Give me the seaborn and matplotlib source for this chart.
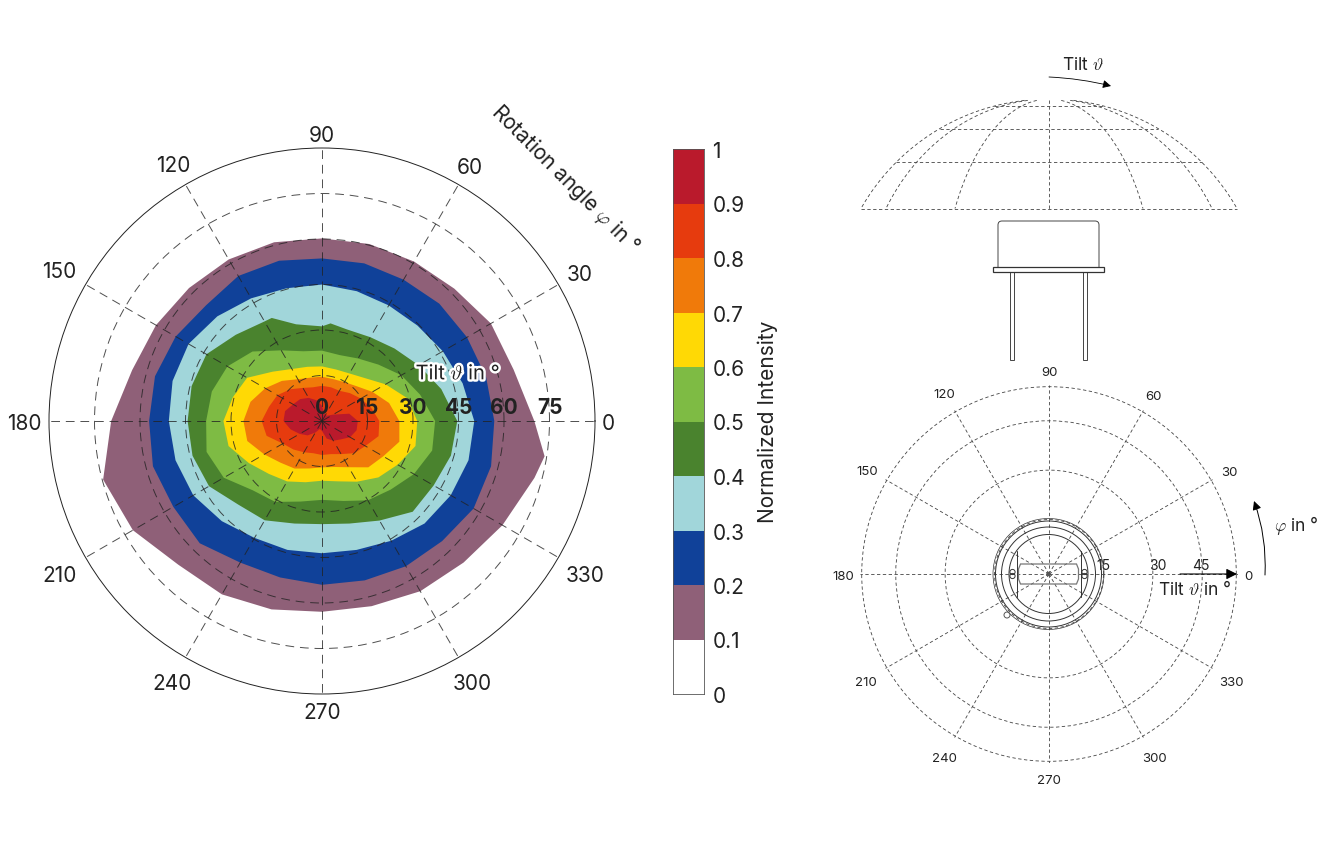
import numpy as np
import matplotlib
matplotlib.use('Agg')
import matplotlib.pyplot as plt
import matplotlib.patheffects as pe
from matplotlib.colors import ListedColormap
from matplotlib.patches import FancyBboxPatch, Rectangle, Circle, Polygon
import seaborn as sns

# Rotation angle in degrees, shared by most of the contours
PHI = [0, 15, 30, 45, 60, 75, 90, 105, 120, 135, 150, 165,
       180, 195, 210, 225, 240, 255, 270, 285, 300, 315, 330, 345]

# Outer boundary of each intensity band, tilt in degrees at each rotation angle
PHI_01 = PHI + [351]
TILT_01 = [70, 65.4, 64.3, 61.7, 60.7, 60.4, 60.2, 61, 61.5, 62, 63.2, 64.8,
           69.5, 74.7, 72, 67, 66, 64.3, 62.9, 63.2, 64.8, 66, 68.7, 72.5, 74.3]
TILT_02 = [56.8, 56, 55.2, 54.7, 53.8, 53.8, 53.6, 54.7, 55.2, 54, 55.7, 57,
           57, 57.7, 56.6, 57, 53.9, 53.4, 54, 54.4, 55.3, 56, 57.7, 57.7]
TILT_03 = [50.2, 48, 46, 44.5, 44, 44.3, 45, 45.3, 46.7, 48.8, 50.8, 51,
           50.5, 50, 49, 46.7, 44.5, 44, 43.6, 44, 45.6, 47.8, 49, 50]
PHI_04 = PHI + [85, 116]
TILT_04 = [44.6, 40.7, 36.8, 33.8, 31.9, 31.3, 31.2, 33, 37.9, 40.2, 44, 44.5,
           44.3, 44.2, 43, 39, 37.8, 35, 34, 35, 37.9, 42.3, 42.5, 44, 32.3, 37.8]
TILT_05 = [37.3, 33.5, 30.2, 26.3, 23.8, 22.5, 23.2, 23.8, 26.9, 32.4, 36, 37.6,
           38.2, 39.4, 37.4, 32.3, 30.8, 27.5, 26, 27.3, 30.2, 32, 35, 37.6]
TILT_06 = [31.4, 29.1, 24.2, 20, 18.1, 17.6, 18, 18.5, 19.8, 23, 28.5, 30.4,
           32.5, 31.9, 27.8, 24.7, 23, 20.9, 19.7, 20.6, 23.1, 26.3, 28.8, 31.9]
TILT_07 = [25.5, 22.9, 19.2, 16.2, 14.8, 14.3, 14.6, 14.8, 15.9, 18.7, 21.6, 24.4,
           25.9, 25.5, 22, 19.4, 18.1, 16.2, 15.3, 15.7, 17.6, 21.6, 23.3, 26.4]
TILT_08 = [18.9, 16.8, 14.8, 13, 11.5, 11.5, 11.6, 11.5, 12.6, 14.8, 17, 18.1,
           19.9, 18.9, 14.9, 13.3, 11.9, 11, 11.2, 11.3, 12.6, 15, 16.5, 19.3]
TILT_09 = [11.8, 9.3, 4.2, 2.5, 2.2, 2.7, 5, 7.1, 8.8, 10.2, 11, 12.6,
           12.7, 10.7, 8.5, 6.7, 4.4, 2.7, 3.3, 6, 7.5, 8.6, 10.7, 11.8]

BAND_COLORS = ['#8F6078', '#104199', '#A1D6DA', '#4A832E', '#7EBB44',
               '#FFD905', '#F07A0A', '#E63B0E', '#BA1A2C']
BAR_VALUES = [0.95, 0.85, 0.75, 0.65, 0.55, 0.45, 0.35, 0.25, 0.15, 0.05]
BAR_LABELS = ['1', '0.9', '0.8', '0.7', '0.6', '0.5', '0.4', '0.3', '0.2', '0.1', '0']

PHI_TICKS = [0, 30, 60, 90, 120, 150, 180, 210, 240, 270, 300, 330]
PHI_LABEL_R = [94.3, 98, 97.5, 95, 98.3, 100, 98.3, 100, 99, 95.3, 99, 100.3]
TILT_TICKS = [0, 15, 30, 45, 60, 75]
SMALL_RINGS = [16, 30.5, 45, 55]
SMALL_LABEL_R = [58.4, 61, 61.1, 59.9, 61.6, 61.6, 60.5, 62, 61.7, 59.9, 61.7, 62]
SMALL_TILT_R = [16, 32, 44.5]
SMALL_TILT_LABELS = ['15', '30', '45']

INK = '#222222'
W, H = 1330, 845

sns.set_theme(style='white')
plt.rcParams['font.family'] = ['Inter', 'DejaVu Sans']
plt.rcParams['mathtext.fontset'] = 'cm'

fig = plt.figure(figsize=(W / 100, H / 100), dpi=100)


def px_axes(x0, y0, x1, y1, **kwargs):
    # axes from image pixel corners, y counted from the top
    return fig.add_axes([x0 / W, 1 - y1 / H, (x1 - x0) / W, (y1 - y0) / H], **kwargs)


# Left polar contour chart
ax = px_axes(49, 149, 595, 695, projection='polar')
bands = [(PHI_01, TILT_01), (PHI, TILT_02), (PHI, TILT_03), (PHI_04, TILT_04),
         (PHI, TILT_05), (PHI, TILT_06), (PHI, TILT_07), (PHI, TILT_08), (PHI, TILT_09)]
for (phi, tilt), color in zip(bands, BAND_COLORS):
    order = np.argsort(phi)
    ax.fill(np.deg2rad(phi)[order], np.array(tilt)[order], color=color, lw=0)

ax.set_ylim(0, 90)
ax.set_thetagrids(PHI_TICKS)
ax.set_rgrids([15, 30, 45, 60, 75])
ax.tick_params(labelbottom=False, labelleft=False)
ax.set_axisbelow(False)
ax.grid(True, color='#222222', lw=0.7, linestyle=(0, (9, 6)), alpha=0.8)
ax.spines['polar'].set_color('#222222')
ax.spines['polar'].set_linewidth(0.7)

for angle, r in zip(PHI_TICKS, PHI_LABEL_R):
    ax.annotate(str(angle), (np.deg2rad(angle), r), xytext=(0, -2), textcoords='offset pixels',
                ha='center', va='center', fontsize=15, color=INK, annotation_clip=False)
for t in TILT_TICKS:
    ax.annotate(str(t), (0, t), xytext=(0, 14), textcoords='offset pixels',
                ha='center', va='center', fontsize=15, fontweight='bold', color=INK)

# Colour scale
cax = px_axes(673, 150, 704, 695)
sns.heatmap(np.array(BAR_VALUES).reshape(-1, 1), ax=cax, vmin=0, vmax=1, cbar=False,
            cmap=ListedColormap(['white'] + BAND_COLORS), xticklabels=False)
cax.yaxis.tick_right()
cax.set_yticks(range(len(BAR_LABELS)))
cax.set_yticklabels(BAR_LABELS, rotation=0, fontsize=15, color=INK)
cax.tick_params(axis='y', length=0, pad=6)
for spine in cax.spines.values():
    spine.set_visible(True)
    spine.set_color('#555555')
    spine.set_linewidth(0.6)

# Right polar reference chart
small = px_axes(860, 386, 1238, 764, projection='polar')
small.set_ylim(0, 55.5)
small.set_thetagrids(PHI_TICKS)
small.set_rgrids(SMALL_RINGS)
small.tick_params(labelbottom=False, labelleft=False)
small.grid(True, color='#444444', lw=0.6, linestyle=(0, (4, 3)))
small.spines['polar'].set_visible(False)
for angle, r in zip(PHI_TICKS, SMALL_LABEL_R):
    small.annotate(str(angle), (np.deg2rad(angle), r), xytext=(0, -2), textcoords='offset pixels',
                   ha='center', va='center', fontsize=9.5, color=INK, annotation_clip=False)
for t, label in zip(SMALL_TILT_R, SMALL_TILT_LABELS):
    small.annotate(label, (0, t), xytext=(0, 9), textcoords='offset pixels',
                   ha='center', va='center', fontsize=10, color=INK)

# Overlay in image pixels for the drawings and loose labels
ov = fig.add_axes([0, 0, 1, 1])
ov.set_xlim(0, W)
ov.set_ylim(H, 0)
ov.axis('off')
ov.patch.set_alpha(0)

ov.text(565, 179, 'Rotation angle $\\varphi$ in °', rotation=-45, rotation_mode='anchor',
        ha='center', va='center', fontsize=15, color=INK)
ov.text(458, 375, 'Tilt $\\vartheta$ in °', ha='center', va='center', fontsize=14.5, color=INK,
        path_effects=[pe.withStroke(linewidth=3.5, foreground='white')])
ov.text(768, 422, 'Normalized Intensity', rotation=90, ha='center', va='center',
        fontsize=15, color=INK)

# Dome above the device
dome_x, dome_base, dome_top, dome_hw = 1049, 209.5, 100, 188
dome_r = (dome_hw ** 2 + (dome_base - dome_top) ** 2) / (2 * (dome_base - dome_top))
dome_y = np.linspace(dome_top, dome_base, 80)
half = np.sqrt(dome_r ** 2 - (dome_top + dome_r - dome_y) ** 2)
dash = dict(color='#444444', lw=0.6, linestyle=(0, (4, 3)))
for k in [1, 0.867, 0.5, 0, -0.5, -0.867, -1]:
    ov.plot(dome_x + k * half, dome_y, **dash)
for y in [107, 129.5, 163, dome_base]:
    hw = np.sqrt(dome_r ** 2 - (dome_top + dome_r - y) ** 2)
    ov.plot([dome_x - hw, dome_x + hw], [y, y], **dash)

ov.text(1083, 65, 'Tilt $\\vartheta$', ha='center', va='center', fontsize=12.5, color=INK)
ov.annotate('', xy=(1111, 87), xytext=(1049, 78),
            arrowprops=dict(arrowstyle='-|>', color='black', lw=0.6, mutation_scale=12,
                            connectionstyle='arc3,rad=-0.05', shrinkA=0, shrinkB=0))

# Device side view
line = dict(fill=False, edgecolor='#444444', lw=0.7)
ov.add_patch(FancyBboxPatch((1001, 225), 95, 44, boxstyle='round,pad=3,rounding_size=4', **line))
ov.add_patch(Rectangle((993, 268), 111, 5, facecolor='white', edgecolor='#333333', lw=0.9, zorder=3))
ov.add_patch(Rectangle((1010, 273), 4, 88, **line))
ov.add_patch(Rectangle((1083, 273), 4, 88, **line))

# Device footprint in the small chart
cx, cy = 1048.5, 575
for radius, lw in [(55.5, 0.5), (53, 0.7), (47, 0.7), (39.5, 0.7)]:
    ov.add_patch(Circle((cx, cy), radius, fill=False, edgecolor='#333333', lw=lw))
for dx in [-32, 32]:
    ov.plot([cx + dx, cx + dx], [cy - 23, cy + 23], color='#333333', lw=0.7)
ov.add_patch(Polygon([(cx - 30, cy - 5), (cx - 28, cy - 10), (cx + 28, cy - 10), (cx + 30, cy - 5),
                      (cx + 30, cy + 5), (cx + 28, cy + 10), (cx - 28, cy + 10), (cx - 30, cy + 5)],
                     fill=False, edgecolor='#777777', lw=0.9))
for dx in [-36, 36]:
    ov.add_patch(Circle((cx + dx, cy - 2), 2.6, fill=False, edgecolor='#333333', lw=0.7))
    ov.add_patch(Circle((cx + dx, cy + 2), 2.6, fill=False, edgecolor='#333333', lw=0.7))
ov.add_patch(Circle((cx, cy), 2.2, facecolor='#555555', edgecolor='none'))
ov.add_patch(Circle((1007, 616), 3, fill=False, edgecolor='#555555', lw=0.7))

# Arrows and labels on the small chart
ov.annotate('', xy=(1237, 575), xytext=(1180, 575),
            arrowprops=dict(arrowstyle='-|>', color='black', lw=0.8, mutation_scale=16,
                            shrinkA=0, shrinkB=0))
ov.text(1195, 590, 'Tilt $\\vartheta$ in °', ha='center', va='center', fontsize=12.5, color=INK)
ov.annotate('', xy=(1254, 502), xytext=(1265, 576),
            arrowprops=dict(arrowstyle='-|>', color='black', lw=0.7, mutation_scale=13,
                            connectionstyle='arc3,rad=0.1', shrinkA=0, shrinkB=0))
ov.text(1296, 526, '$\\varphi$ in °', ha='center', va='center', fontsize=12.5, color=INK)

fig.savefig('out.png', dpi=100)
